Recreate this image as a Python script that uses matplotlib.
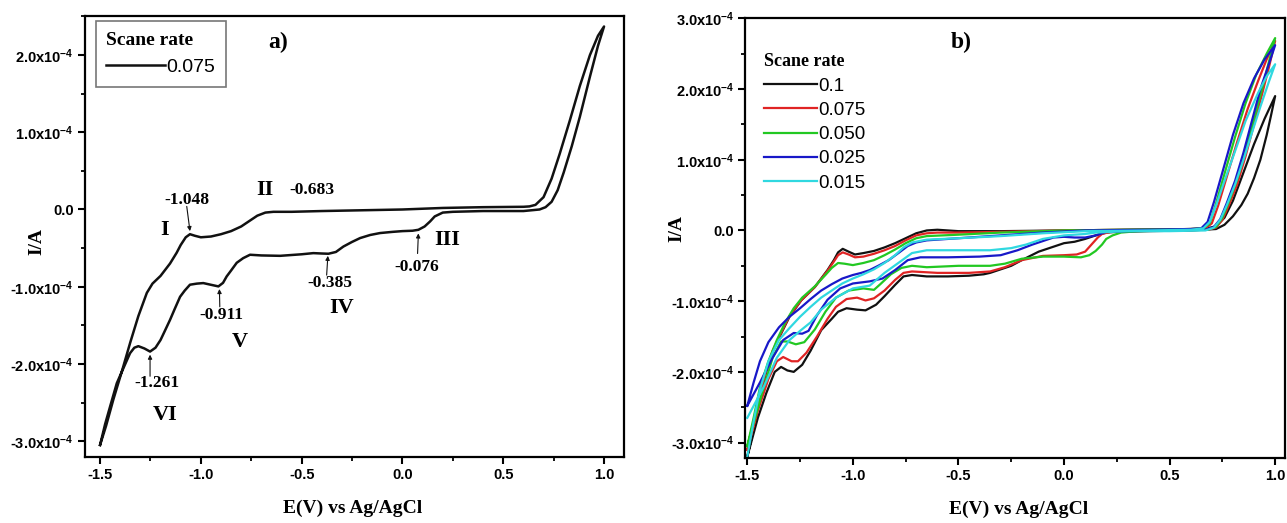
import matplotlib
matplotlib.use('Agg')
import matplotlib.pyplot as plt
from matplotlib.ticker import MultipleLocator, FixedLocator, FixedFormatter

plt.rcParams['axes.unicode_minus'] = False
plt.rcParams['mathtext.fontset'] = 'custom'
plt.rcParams['mathtext.rm'] = 'Liberation Sans:bold'
plt.rcParams['mathtext.it'] = 'Liberation Sans:bold'
plt.rcParams['mathtext.bf'] = 'Liberation Sans:bold'

SANS = 'Liberation Sans'
SERIF = 'Liberation Serif'

# ---- panel a: single CV at 0.075 V/s (current in 1e-4 A) ----
E_a = [-1.50, -1.47, -1.434, -1.39, -1.35, -1.31, -1.268, -1.24, -1.20, -1.153, -1.12, -1.10,
       -1.075, -1.054, -1.03, -1.00, -0.95, -0.90, -0.85, -0.80, -0.76, -0.72, -0.68, -0.64,
       -0.55, -0.40, -0.20, 0.00, 0.20, 0.40, 0.60, 0.63, 0.66, 0.70, 0.74, 0.78, 0.83, 0.88,
       0.93, 0.97, 1.00,
       0.97, 0.93, 0.88, 0.84, 0.80, 0.77, 0.74, 0.71, 0.68, 0.60, 0.40, 0.25, 0.20,
       0.16, 0.137, 0.11, 0.079, 0.05, 0.00, -0.05, -0.111, -0.16, -0.21, -0.25, -0.293, -0.33,
       -0.367, -0.40, -0.442, -0.50, -0.607, -0.70, -0.756, -0.79, -0.822, -0.85, -0.872,
       -0.89, -0.913, -0.95, -0.988, -1.02, -1.054, -1.08, -1.103, -1.13, -1.153, -1.18,
       -1.20, -1.225, -1.252, -1.28, -1.31, -1.33, -1.351, -1.38, -1.417, -1.45, -1.475, -1.50]
I_a = [-3.05, -2.80, -2.46, -2.08, -1.72, -1.38, -1.08, -0.96, -0.86, -0.70, -0.56, -0.46,
       -0.36, -0.32, -0.34, -0.36, -0.35, -0.32, -0.28, -0.22, -0.15, -0.08, -0.04, -0.03,
       -0.03, -0.02, -0.01, 0.00, 0.02, 0.03, 0.035, 0.04, 0.06, 0.16, 0.40, 0.72, 1.15, 1.60,
       2.00, 2.25, 2.37,
       2.12, 1.72, 1.20, 0.82, 0.48, 0.25, 0.10, 0.03, 0.00, -0.02, -0.02, -0.03, -0.04,
       -0.09, -0.155, -0.22, -0.263, -0.275, -0.28, -0.29, -0.305, -0.33, -0.37, -0.42, -0.48, -0.55,
       -0.573, -0.57, -0.565, -0.58, -0.60, -0.595, -0.586, -0.63, -0.69, -0.79, -0.867,
       -0.95, -0.996, -0.975, -0.953, -0.96, -0.974, -1.05, -1.13, -1.29, -1.43, -1.58,
       -1.69, -1.79, -1.84, -1.80, -1.77, -1.79, -1.86, -2.03, -2.25, -2.55, -2.78, -3.05]

# ---- panel b: CVs at several scan rates (current in 1e-4 A) ----
rates = ['0.1', '0.075', '0.050', '0.025', '0.015']
colors = ['#111111', '#e02424', '#22c822', '#1818c8', '#30d8e0']

E_01 = [-1.50, -1.47, -1.44, -1.41, -1.38, -1.34, -1.30, -1.245, -1.18, -1.12, -1.09, -1.07, -1.048,
        -1.02, -0.99, -0.95, -0.90, -0.85, -0.80, -0.75, -0.70, -0.65, -0.60, -0.50, -0.30, 0.00,
        0.30, 0.60, 0.68, 0.72, 0.76, 0.80, 0.85, 0.90, 0.95, 1.00,
        0.98, 0.96, 0.93, 0.90, 0.87, 0.84, 0.80, 0.76, 0.72, 0.60, 0.40, 0.25, 0.20, 0.15, 0.10,
        0.05, 0.00, -0.05, -0.12, -0.20, -0.25, -0.30, -0.35, -0.38, -0.45, -0.55, -0.65, -0.72,
        -0.76, -0.80, -0.85, -0.89, -0.94, -0.98, -1.03, -1.07, -1.10, -1.15, -1.20, -1.24, -1.28,
        -1.31, -1.34, -1.37, -1.41, -1.45, -1.50]
I_01 = [-3.20, -2.80, -2.35, -2.00, -1.72, -1.46, -1.22, -0.99, -0.80, -0.56, -0.42, -0.31, -0.26,
        -0.30, -0.34, -0.32, -0.29, -0.24, -0.18, -0.11, -0.04, 0.00, 0.01, -0.01, -0.01, 0.00,
        0.01, 0.02, 0.03, 0.06, 0.18, 0.42, 0.82, 1.22, 1.58, 1.90,
        1.62, 1.35, 1.00, 0.74, 0.52, 0.36, 0.20, 0.08, 0.02, 0.00, -0.01, -0.02, -0.03, -0.07, -0.12,
        -0.16, -0.18, -0.23, -0.30, -0.42, -0.50, -0.55, -0.60, -0.62, -0.64, -0.65, -0.65, -0.63,
        -0.65, -0.77, -0.93, -1.05, -1.13, -1.12, -1.10, -1.15, -1.25, -1.41, -1.70, -1.90, -2.00,
        -1.98, -1.93, -2.00, -2.30, -2.65, -3.20]

E_0075 = [-1.50, -1.47, -1.44, -1.41, -1.38, -1.34, -1.30, -1.245, -1.18, -1.12, -1.09, -1.07, -1.048,
          -1.02, -0.99, -0.95, -0.90, -0.85, -0.80, -0.75, -0.70, -0.65, -0.60, -0.50, -0.30, 0.00,
          0.30, 0.60, 0.67, 0.70, 0.73, 0.77, 0.82, 0.87, 0.92, 0.96, 1.00,
          0.97, 0.94, 0.90, 0.86, 0.82, 0.78, 0.75, 0.72, 0.68, 0.50, 0.30, 0.22, 0.18, 0.16, 0.13,
          0.10, 0.06, 0.00, -0.10, -0.20, -0.28, -0.35, -0.45, -0.60, -0.72, -0.76, -0.80, -0.85,
          -0.90, -0.94, -0.98, -1.03, -1.08, -1.12, -1.17, -1.22, -1.26, -1.29, -1.33, -1.36, -1.40,
          -1.45, -1.50]
I_0075 = [-3.10, -2.75, -2.32, -1.98, -1.70, -1.45, -1.21, -0.99, -0.80, -0.57, -0.44, -0.35, -0.31,
          -0.34, -0.38, -0.37, -0.33, -0.28, -0.22, -0.14, -0.07, -0.04, -0.03, -0.03, -0.02, 0.00,
          0.01, 0.02, 0.03, 0.10, 0.35, 0.75, 1.25, 1.72, 2.12, 2.42, 2.68,
          2.30, 1.95, 1.50, 1.05, 0.65, 0.35, 0.15, 0.04, 0.01, 0.00, -0.01, -0.02, -0.05, -0.10, -0.20,
          -0.30, -0.34, -0.35, -0.36, -0.42, -0.52, -0.58, -0.60, -0.60, -0.58, -0.60, -0.70, -0.85,
          -0.96, -0.99, -0.95, -0.97, -1.08, -1.25, -1.50, -1.73, -1.85, -1.85, -1.79, -1.85, -2.10,
          -2.55, -3.10]

E_0050 = [-1.50, -1.47, -1.44, -1.40, -1.36, -1.32, -1.28, -1.24, -1.18, -1.13, -1.10, -1.07, -1.04,
          -1.00, -0.95, -0.90, -0.85, -0.80, -0.75, -0.70, -0.65, -0.50, -0.30, 0.00, 0.30, 0.60,
          0.66, 0.69, 0.72, 0.76, 0.81, 0.86, 0.91, 0.96, 1.00,
          0.97, 0.94, 0.90, 0.86, 0.82, 0.78, 0.75, 0.72, 0.68, 0.50, 0.35, 0.27, 0.23, 0.20, 0.18,
          0.15, 0.12, 0.08, 0.00, -0.10, -0.20, -0.28, -0.35, -0.50, -0.65, -0.72, -0.77, -0.82,
          -0.87, -0.90, -0.95, -1.02, -1.08, -1.13, -1.18, -1.23, -1.27, -1.31, -1.34, -1.38, -1.43,
          -1.50]
I_0050 = [-3.05, -2.65, -2.22, -1.85, -1.55, -1.30, -1.10, -0.95, -0.79, -0.63, -0.53, -0.46, -0.47,
          -0.49, -0.46, -0.42, -0.35, -0.27, -0.18, -0.11, -0.08, -0.06, -0.03, 0.00, 0.01, 0.02,
          0.03, 0.10, 0.38, 0.80, 1.32, 1.80, 2.20, 2.50, 2.72,
          2.38, 2.02, 1.58, 1.12, 0.72, 0.40, 0.18, 0.05, 0.01, 0.00, -0.01, -0.03, -0.07, -0.12, -0.20,
          -0.29, -0.35, -0.38, -0.37, -0.37, -0.40, -0.47, -0.50, -0.50, -0.52, -0.50, -0.53, -0.62,
          -0.76, -0.84, -0.82, -0.85, -0.95, -1.15, -1.40, -1.58, -1.61, -1.57, -1.57, -1.80, -2.30,
          -3.05]

E_0025 = [-1.50, -1.47, -1.44, -1.40, -1.35, -1.30, -1.25, -1.20, -1.15, -1.10, -1.05, -1.00, -0.96,
          -0.92, -0.88, -0.83, -0.78, -0.74, -0.70, -0.65, -0.55, -0.45, -0.30, -0.10, 0.10, 0.40,
          0.60, 0.65, 0.68, 0.71, 0.75, 0.80, 0.85, 0.90, 0.95, 1.00,
          0.97, 0.93, 0.89, 0.85, 0.81, 0.77, 0.74, 0.71, 0.67, 0.50, 0.30, 0.20, 0.15, 0.10, 0.05,
          0.00, -0.05, -0.10, -0.15, -0.22, -0.30, -0.40, -0.55, -0.68, -0.74, -0.80, -0.86, -0.92,
          -1.00, -1.06, -1.12, -1.17, -1.21, -1.24, -1.28, -1.33, -1.38, -1.44, -1.50]
I_0025 = [-2.48, -2.15, -1.85, -1.58, -1.37, -1.22, -1.10, -0.97, -0.85, -0.76, -0.68, -0.63, -0.60,
          -0.56, -0.50, -0.42, -0.31, -0.22, -0.17, -0.14, -0.12, -0.10, -0.07, -0.03, 0.00, 0.01,
          0.02, 0.03, 0.12, 0.40, 0.82, 1.35, 1.80, 2.15, 2.42, 2.62,
          2.35, 2.00, 1.55, 1.10, 0.70, 0.38, 0.16, 0.05, 0.01, 0.00, -0.01, -0.02, -0.07, -0.10, -0.10,
          -0.09, -0.10, -0.15, -0.20, -0.28, -0.35, -0.37, -0.38, -0.38, -0.42, -0.56, -0.68, -0.72,
          -0.75, -0.82, -0.98, -1.20, -1.42, -1.46, -1.45, -1.55, -1.80, -2.15, -2.48]

E_0015 = [-1.50, -1.47, -1.44, -1.40, -1.35, -1.30, -1.25, -1.20, -1.15, -1.10, -1.05, -1.00, -0.95,
          -0.90, -0.85, -0.80, -0.76, -0.72, -0.65, -0.50, -0.30, -0.10, 0.10, 0.40, 0.60, 0.66,
          0.69, 0.72, 0.76, 0.81, 0.86, 0.92, 0.96, 1.00,
          0.97, 0.93, 0.89, 0.85, 0.81, 0.77, 0.74, 0.71, 0.67, 0.50, 0.30, 0.15, 0.10, 0.00, -0.10,
          -0.18, -0.25, -0.35, -0.50, -0.65, -0.72, -0.78, -0.85, -0.92, -1.00, -1.08, -1.15, -1.20,
          -1.25, -1.30, -1.36, -1.42, -1.50]
I_0015 = [-3.20, -2.70, -2.25, -1.85, -1.55, -1.38, -1.22, -1.08, -0.95, -0.85, -0.75, -0.68, -0.62,
          -0.55, -0.46, -0.35, -0.24, -0.17, -0.13, -0.11, -0.08, -0.04, -0.01, 0.00, 0.01, 0.03,
          0.12, 0.35, 0.70, 1.12, 1.55, 1.95, 2.18, 2.35,
          2.10, 1.75, 1.38, 1.00, 0.65, 0.35, 0.15, 0.04, 0.00, -0.01, -0.01, -0.03, -0.05, -0.07, -0.12,
          -0.20, -0.25, -0.28, -0.28, -0.28, -0.32, -0.45, -0.60, -0.78, -0.82, -0.95, -1.12, -1.30,
          -1.42, -1.55, -1.80, -2.20, -2.65]

E_b = [E_01, E_0075, E_0050, E_0025, E_0015]
I_b = [I_01, I_0075, I_0050, I_0025, I_0015]

# peak labels on panel a: (text, x, y, fontsize)
peak_text = [('-1.048', -1.07, 0.12, 12.5), ('I', -1.178, -0.26, 16),
             ('II', -0.68, 0.25, 16), ('-0.683', -0.45, 0.25, 12.5),
             ('III', 0.22, -0.39, 16), ('-0.076', 0.07, -0.74, 12.5),
             ('-0.385', -0.36, -0.95, 12.5), ('IV', -0.30, -1.28, 16),
             ('-0.911', -0.897, -1.36, 12.5), ('V', -0.806, -1.71, 16),
             ('-1.261', -1.219, -2.25, 12.5), ('VI', -1.178, -2.66, 16)]
# small arrows: (tail x, tail y, tip x, tip y)
peak_arrows = [(-1.07, 0.04, -1.054, -0.28), (0.075, -0.57, 0.079, -0.31),
               (-0.376, -0.85, -0.370, -0.60), (-0.906, -1.26, -0.908, -1.03),
               (-1.252, -2.16, -1.252, -1.88)]

fig = plt.figure(figsize=(12.87, 5.23), dpi=100)
ax1 = fig.add_axes([0.066, 0.127, 0.419, 0.843])
ax2 = fig.add_axes([0.579, 0.124, 0.4195, 0.841])


def style_axes(ax, yticks, xlim, ylim):
    ax.set_xlim(*xlim)
    ax.set_ylim(*ylim)
    ax.xaxis.set_major_locator(FixedLocator([-1.5, -1.0, -0.5, 0.0, 0.5, 1.0]))
    ax.xaxis.set_minor_locator(MultipleLocator(0.25))
    ax.xaxis.set_major_formatter(FixedFormatter(['-1.5', '-1.0', '-0.5', '0.0', '0.5', '1.0']))
    ax.yaxis.set_major_locator(FixedLocator([v * 1e-4 for v in yticks]))
    ax.yaxis.set_minor_locator(MultipleLocator(0.5e-4))
    labels = []
    for v in yticks:
        if v == 0:
            labels.append('0.0')
        else:
            labels.append('%.1fx10$^{-4}$' % v)
    ax.yaxis.set_major_formatter(FixedFormatter(labels))
    ax.tick_params(which='major', direction='out', length=5, width=1.5, pad=3)
    ax.tick_params(which='minor', direction='out', length=3, width=1.3)
    for lab in ax.get_xticklabels() + ax.get_yticklabels():
        lab.set_fontfamily(SANS)
        lab.set_fontweight('bold')
        lab.set_fontsize(10.5)
    for sp in ax.spines.values():
        sp.set_linewidth(1.6)
    ax.set_xlabel('E(V) vs Ag/AgCl', fontfamily=SERIF, fontweight='bold', fontsize=14)
    ax.set_ylabel('I/A', fontfamily=SERIF, fontweight='bold', fontsize=14)


# panel a
ax1.plot(E_a, [v * 1e-4 for v in I_a], color='#111111', lw=1.8, label='0.075')
style_axes(ax1, [-3, -2, -1, 0, 1, 2], (-1.575, 1.1), (-3.2e-4, 2.51e-4))
ax1.xaxis.set_label_coords(0.497, -0.097)
ax1.yaxis.set_label_coords(-0.074, 0.487)
leg1 = ax1.legend(loc='upper left', bbox_to_anchor=(0.02, 0.988), borderaxespad=0,
                  title='Scane rate', alignment='left', handlelength=3.0, handletextpad=0.1,
                  fancybox=False, edgecolor='#777777', framealpha=1, borderpad=0.55,
                  prop={'family': SANS, 'size': 14},
                  title_fontproperties={'family': SERIF, 'weight': 'bold', 'size': 14})
leg1.get_frame().set_linewidth(1.2)
ax1.text(0.358, 0.94, 'a)', transform=ax1.transAxes, ha='center', va='center',
         fontfamily=SERIF, fontweight='bold', fontsize=17)
for txt, x, y, fs in peak_text:
    ax1.text(x, y * 1e-4, txt, ha='center', va='center', fontfamily=SERIF,
             fontweight='bold', fontsize=fs)
for x0, y0, x1, y1 in peak_arrows:
    ax1.annotate('', xy=(x1, y1 * 1e-4), xytext=(x0, y0 * 1e-4),
                 arrowprops=dict(arrowstyle='-|>', color='#111111', lw=0.8,
                                 mutation_scale=6, shrinkA=0, shrinkB=0))

# panel b
for E, I, c, r in zip(E_b, I_b, colors, rates):
    ax2.plot(E, [v * 1e-4 for v in I], color=c, lw=1.6, label=r)
style_axes(ax2, [-3, -2, -1, 0, 1, 2, 3], (-1.51, 1.047), (-3.22e-4, 3.0e-4))
ax2.xaxis.set_label_coords(0.507, -0.097)
ax2.yaxis.set_label_coords(-0.111, 0.523)
ax2.legend(loc='upper left', bbox_to_anchor=(0.035, 0.92), borderaxespad=0, frameon=False,
           title='Scane rate', alignment='left', handlelength=2.8, handletextpad=0.1,
           borderpad=0, labelspacing=0.38,
           prop={'family': SANS, 'size': 13.5},
           title_fontproperties={'family': SERIF, 'weight': 'bold', 'size': 13})
ax2.text(0.40, 0.944, 'b)', transform=ax2.transAxes, ha='center', va='center',
         fontfamily=SERIF, fontweight='bold', fontsize=17)

fig.savefig('out.png', dpi=100)
